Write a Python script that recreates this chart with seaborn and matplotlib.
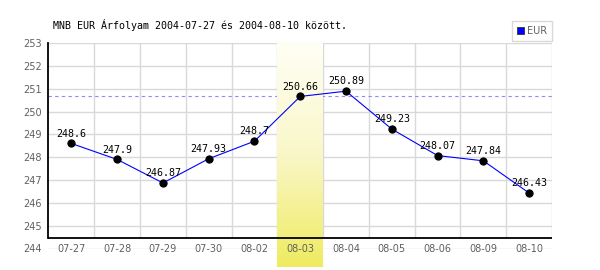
import numpy as np
import pandas as pd
import matplotlib
matplotlib.use("Agg")
import matplotlib.pyplot as plt
from matplotlib.colors import LinearSegmentedColormap
from matplotlib.patches import Patch
import seaborn as sns

# ---- data ----
dates = ["07-27", "07-28", "07-29", "07-30", "08-02", "08-03",
         "08-04", "08-05", "08-06", "08-09", "08-10"]
rates = [248.6, 247.9, 246.87, 247.93, 248.7, 250.66,
         250.89, 249.23, 248.07, 247.84, 246.43]
highlight_date = "08-03"
reference_rate = 250.66
y_ticks = [244, 245, 246, 247, 248, 249, 250, 251, 252, 253]
title = "MNB EUR Árfolyam 2004-07-27 és 2004-08-10 között."
series_name = "EUR"

df = pd.DataFrame({"date": dates, "rate": rates})

sns.set_style("white")
plt.rcParams["font.family"] = ["DejaVu Sans"]

fig = plt.figure(figsize=(6.0, 2.7), dpi=100)
fig.patch.set_facecolor("white")
ax = fig.add_axes([48.5 / 600, 1 - 248.5 / 270, (552 - 48.5) / 600, (248.5 - 43) / 270])
ax.set_facecolor("white")

n = len(dates)
ymin, ymax = y_ticks[0], y_ticks[-1]
px_per_unit = (248.5 - 43) / (ymax - ymin)
axis_y = ymin + (248.5 - 238) / px_per_unit       # black base line
hl_bottom = ymin - (267 - 248.5) / px_per_unit
hl_top = ymax + 1 / px_per_unit

grid_c = "#d9d9d9"
# horizontal grid lines
ax.hlines(y_ticks, -0.5, n - 0.5, color=grid_c, lw=1.0, zorder=0.5)
# vertical grid lines at category boundaries
ax.vlines(np.arange(n) + 0.5, axis_y, ymax, color=grid_c, lw=1.0, zorder=0.5)

# reference dashed line
ax.axhline(reference_rate, color="#8c8cf0", lw=0.8, ls=(0, (3, 3)), zorder=0.7)

# highlight column with vertical gradient
hi = dates.index(highlight_date)
cmap = LinearSegmentedColormap.from_list("hl", ["#fffff6", "#f9f7c8", "#efeb60"])
grad = np.linspace(0, 1, 256).reshape(-1, 1)
im = ax.imshow(grad, cmap=cmap, aspect="auto",
               extent=(hi - 0.5, hi + 0.5, hl_bottom, hl_top),
               origin="upper", zorder=1, clip_on=False, interpolation="bilinear")
im.set_clip_on(False)

# base black line
ax.axhline(axis_y, color="black", lw=1.3, zorder=2.6)

# data line
sns.lineplot(data=df, x="date", y="rate", ax=ax, sort=False, color="#0000ff",
             lw=0.8, marker="o", markersize=5.2, markerfacecolor="black",
             markeredgecolor="black", zorder=3)

for i, v in enumerate(rates):
    ax.annotate(f"{v:g}", (i, v), xytext=(0, 3.5), textcoords="offset points",
                ha="center", va="bottom", fontsize=7.2, family="DejaVu Sans Mono",
                color="black", zorder=4)

ax.set_xlim(-0.5, n - 0.5)
ax.set_ylim(ymin, ymax)
ax.set_axisbelow(False)
ax.set_xlabel("")
ax.set_ylabel("")
ax.set_xticks(range(n))
ax.set_xticklabels(dates)
ax.set_yticks(y_ticks)
ax.set_yticklabels([str(t) for t in y_ticks])
ax.tick_params(axis="both", length=0, labelsize=7, labelcolor="#606060")
ax.tick_params(axis="y", pad=5)
ax.tick_params(axis="x", pad=0)
for lab in ax.get_xticklabels():
    lab.set_va("center")

for s in ["top", "right", "bottom"]:
    ax.spines[s].set_visible(False)
ax.spines["left"].set_color("black")
ax.spines["left"].set_linewidth(1.3)
ax.spines["left"].set_bounds(axis_y, ymax)
ax.spines["left"].set_zorder(2.6)

fig.text(53 / 600, 1 - 25 / 270, title, ha="left", va="center",
         fontsize=7.2, family="DejaVu Sans Mono", color="black")

leg = fig.legend(handles=[Patch(facecolor="#0000ff", edgecolor="#333333", lw=0.6)],
                 labels=[series_name], loc="upper right",
                 bbox_to_anchor=(552 / 600, 1 - 21 / 270),
                 fontsize=7, frameon=True, fancybox=False, framealpha=1,
                 handlelength=0.75, handleheight=0.75, handletextpad=0.3,
                 borderpad=0.5, borderaxespad=0)
leg.get_frame().set_edgecolor("#d9d9d9")
leg.get_frame().set_linewidth(1.0)
for t in leg.get_texts():
    t.set_color("#606060")

fig.savefig("out.png", dpi=100, facecolor="white")
